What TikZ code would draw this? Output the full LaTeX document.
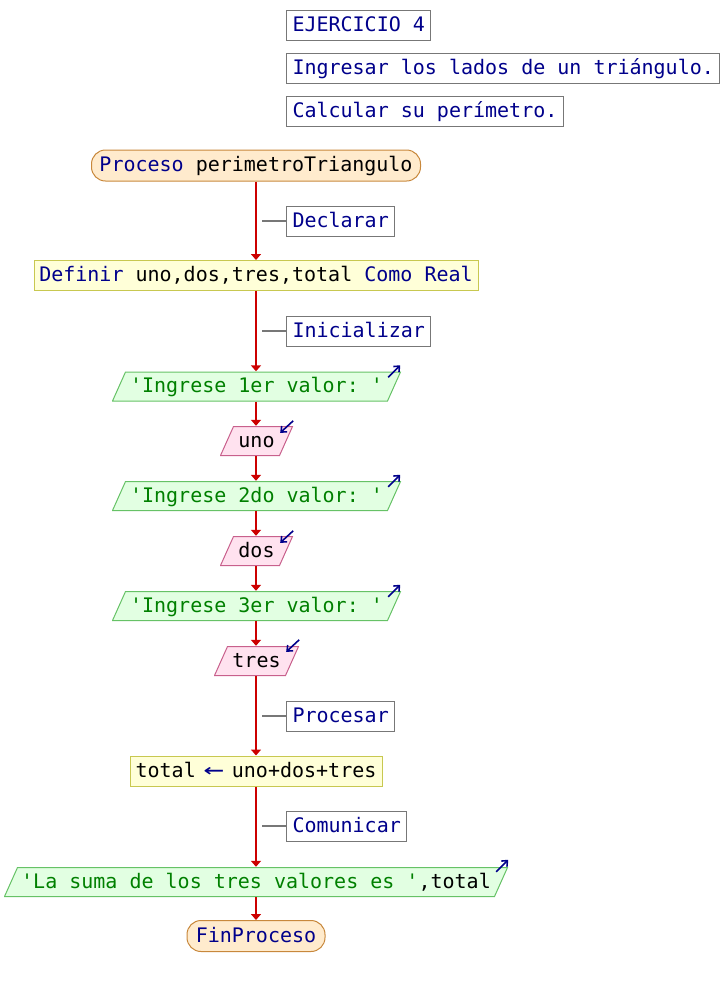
\documentclass[tikz,border=0pt]{standalone}
\usepackage{fontspec}
\setmonofont{DejaVu Sans Mono}
\usetikzlibrary{arrows.meta,calc}
\definecolor{kw}{HTML}{00008B}
\definecolor{strg}{HTML}{008000}
\definecolor{flowred}{HTML}{CC0000}
\definecolor{termfill}{HTML}{FFEBCD}
\definecolor{termdraw}{HTML}{C8883C}
\definecolor{procfill}{HTML}{FFFFD8}
\definecolor{procdraw}{HTML}{C8C850}
\definecolor{outfill}{HTML}{E2FFE2}
\definecolor{outdraw}{HTML}{66C266}
\definecolor{infill}{HTML}{FFE2EF}
\definecolor{indraw}{HTML}{C8608C}
\definecolor{cmtdraw}{HTML}{777777}
\newcommand{\assignarrow}{\makebox[12.04pt]{\color{kw}\scalebox{1.7}[1.15]{←}}}
\tikzset{
  base/.style={font=\ttfamily\fontsize{20}{24}\selectfont, text height=15.5pt, text depth=3.5pt, inner sep=0pt, align=center},
  term/.style={base, draw=termdraw, fill=termfill, line width=1pt, rounded corners=14pt, minimum height=31pt},
  proc/.style={base, draw=procdraw, fill=procfill, line width=1pt, minimum height=30pt},
  para/.style n args={2}{base, minimum height=30pt, path picture={
      \draw[draw=#1, fill=#2, line width=1pt]
        ($(path picture bounding box.north west)+(13.5pt,-0.5pt)$) --
        ($(path picture bounding box.north east)+(-0.5pt,-0.5pt)$) --
        ($(path picture bounding box.south east)+(-13.5pt,0.5pt)$) --
        ($(path picture bounding box.south west)+(0.5pt,0.5pt)$) -- cycle;}},
  outp/.style={para={outdraw}{outfill}},
  inp/.style={para={indraw}{infill}},
  cmt/.style={base, draw=cmtdraw, fill=white, line width=1pt, text=kw, minimum height=30pt, inner xsep=6pt, anchor=west},
  flow/.style={draw=flowred, line width=2pt, -{Triangle[width=10pt,length=6pt]}},
  cline/.style={draw=cmtdraw, line width=1.5pt},
  icon/.style={draw=kw, line width=1.6pt, -{Straight Barb[length=4.5pt,width=8pt]}}
}
\begin{document}
\begin{tikzpicture}[x=1pt,y=-1pt]
\useasboundingbox (0,0) rectangle (728,986);
% comments at top
\node[cmt] (c0) at (286,25) {EJERCICIO 4};
\node[cmt] (c1) at (286,68) {Ingresar los lados de un triángulo.};
\node[cmt] (c2) at (286,111) {Calcular su perímetro.};
% flow
\node[term, minimum width=329pt] (start) at (256,165.5) {{\color{kw}Proceso} perimetroTriangulo};
\node[proc, minimum width=444pt] (def) at (256,275.5) {{\color{kw}Definir} uno,dos,tres,total {\color{kw}Como Real}};
\node[outp, minimum width=289pt] (o1) at (256.5,386.5) {\color{strg}'Ingrese 1er valor: '};
\node[inp, minimum width=73pt] (i1) at (256.5,441) {uno};
\node[outp, minimum width=289pt] (o2) at (256.5,496) {\color{strg}'Ingrese 2do valor: '};
\node[inp, minimum width=73pt] (i2) at (256.5,551) {dos};
\node[outp, minimum width=289pt] (o3) at (256.5,606) {\color{strg}'Ingrese 3er valor: '};
\node[inp, minimum width=85pt] (i3) at (256.5,661) {tres};
\node[proc, minimum width=252pt] (calc) at (256,771) {total \assignarrow{} uno+dos+tres};
\node[outp, minimum width=504pt] (o4) at (256,882) {{\color{strg}'La suma de los tres valores es '},total};
\node[term, minimum width=138pt] (fin) at (256,936) {\color{kw}FinProceso};
% section comments
\node[cmt] (cd) at (286,221) {Declarar};
\node[cmt] (ci) at (286,331) {Inicializar};
\node[cmt] (cp) at (286,716) {Procesar};
\node[cmt] (cc) at (286,826) {Comunicar};
\coordinate (kd) at (262,221);
\coordinate (ki) at (262,331);
\coordinate (kp) at (262,716);
\coordinate (kc) at (262,826);
\draw[cline] (kd) -- (cd.west);
\draw[cline] (ki) -- (ci.west);
\draw[cline] (kp) -- (cp.west);
\draw[cline] (kc) -- (cc.west);
% connectors
\draw[flow] (start.south) -- (start.south |- def.north);
\draw[flow] (def.south) -- (def.south |- o1.north);
\draw[flow] (def.south |- o1.south) -- (def.south |- i1.north);
\draw[flow] (def.south |- i1.south) -- (def.south |- o2.north);
\draw[flow] (def.south |- o2.south) -- (def.south |- i2.north);
\draw[flow] (def.south |- i2.south) -- (def.south |- o3.north);
\draw[flow] (def.south |- o3.south) -- (def.south |- i3.north);
\draw[flow] (def.south |- i3.south) -- (calc.north);
\draw[flow] (calc.south) -- (o4.north);
\draw[flow] (o4.south) -- (fin.north);
% io icons
\draw[icon] ($(o1.north east)+(-13,6)$) -- ($(o1.north east)+(-1,-6)$);
\draw[icon] ($(o2.north east)+(-13,6)$) -- ($(o2.north east)+(-1,-6)$);
\draw[icon] ($(o3.north east)+(-13,6)$) -- ($(o3.north east)+(-1,-6)$);
\draw[icon] ($(o4.north east)+(-12,5)$) -- ($(o4.north east)+(0,-7)$);
\draw[icon] ($(i1.north east)+(0,-5)$) -- ($(i1.north east)+(-13,7)$);
\draw[icon] ($(i2.north east)+(0,-5)$) -- ($(i2.north east)+(-13,7)$);
\draw[icon] ($(i3.north east)+(0,-6)$) -- ($(i3.north east)+(-13,6)$);
\end{tikzpicture}
\end{document}
